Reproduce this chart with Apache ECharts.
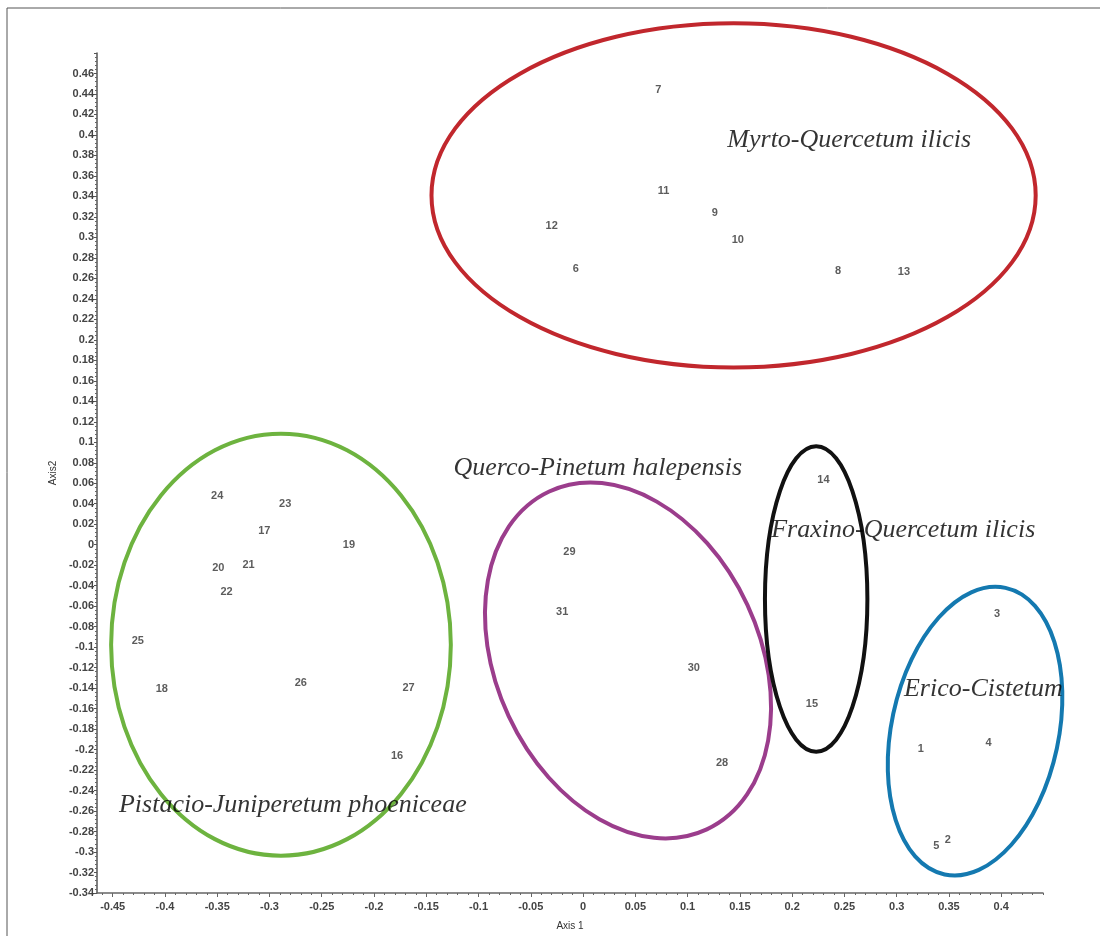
<!DOCTYPE html>
<html lang="en">

<head>
  <meta charset="UTF-8">
  <title>Axis 1 / Axis 2</title>
  <style>
    html,
    body {
      margin: 0;
      padding: 0;
      background: #fff;
    }

    #chart {
      width: 1100px;
      height: 936px;
    }
  </style>
</head>

<body>
  <div id="chart"></div>
</body>
<script src="https://cdn.jsdelivr.net/npm/echarts@6/dist/echarts.min.js"></script>
<script>
  // releves (numero, axe 1, axe 2)
  var releves = ['1', '2', '3', '4', '5', '6', '7', '8', '9', '10', '11', '12', '13', '14', '15', '16',
    '17', '18', '19', '20', '21', '22', '23', '24', '25', '26', '27', '28', '29', '30', '31']
  var axis1 = [0.323, 0.349, 0.396, 0.388, 0.338, -0.007, 0.072, 0.244, 0.126, 0.148, 0.077, -0.030, 0.307,
    0.230, 0.219, -0.178, -0.305, -0.403, -0.224, -0.349, -0.320, -0.341, -0.285, -0.350, -0.426, -0.270,
    -0.167, 0.133, -0.013, 0.106, -0.020]
  var axis2 = [-0.199, -0.288, -0.068, -0.194, -0.294, 0.269, 0.444, 0.267, 0.324, 0.297, 0.345, 0.311, 0.266,
    0.063, -0.155, -0.206, 0.013, -0.141, 0.000, -0.023, -0.020, -0.046, 0.040, 0.048, -0.094, -0.135,
    -0.140, -0.213, -0.007, -0.120, -0.066]

  // groupements (nom + point d'ancrage du texte)
  var groupes = ['Myrto-Quercetum ilicis', 'Querco-Pinetum halepensis', 'Fraxino-Quercetum ilicis',
    'Erico-Cistetum', 'Pistacio-Juniperetum phoeniceae']
  var groupeX = [0.138, -0.124, 0.180, 0.307, -0.444]
  var groupeY = [0.395, 0.075, 0.0146, -0.1415, -0.2546]

  // ellipses : centre, demi-axes (unites des axes), inclinaison en degres
  var ellCx = [0.144, -0.289, 0.043, 0.223, 0.375]
  var ellCy = [0.341, -0.0976, -0.113, -0.053, -0.182]
  var ellRx = [0.289, 0.1625, 0.126, 0.049, 0.080]
  var ellRy = [0.168, 0.206, 0.182, 0.149, 0.143]
  var ellTilt = [0, 0, 25, 0, -12]
  var ellColors = ['#c1272d', '#6db33f', '#9b3d8c', '#111111', '#1479b0']

  var xTicks = [-0.45, -0.4, -0.35, -0.3, -0.25, -0.2, -0.15, -0.1, -0.05, 0, 0.05, 0.1, 0.15, 0.2, 0.25, 0.3, 0.35, 0.4]

  var xMinor = []
  for (var k = -46; k <= 44; k++) {
    xMinor.push(k / 100)
  }

  var pts = releves.map(function (r, i) {
    return { name: r, value: [axis1[i], axis2[i]] }
  })
  var grp = groupes.map(function (g, i) {
    return { name: g, value: [groupeX[i], groupeY[i]] }
  })

  var myChart = echarts.init(document.getElementById('chart'))
  var option = {
    animation: false,
    grid: { left: 97, right: 57, top: 53, bottom: 42 },
    xAxis: [{
      type: 'value',
      position: 'bottom',
      min: -0.465,
      max: 0.44,
      name: 'Axis 1',
      nameLocation: 'middle',
      nameGap: 28,
      nameTextStyle: { fontSize: 10, color: '#333', fontFamily: 'Liberation Sans' },
      splitLine: { show: false },
      axisLine: { onZero: false, lineStyle: { color: '#666', width: 1.5 } },
      axisTick: { customValues: xTicks, length: 4, lineStyle: { color: '#666' } },
      axisLabel: {
        customValues: xTicks,
        fontSize: 11,
        fontWeight: 'bold',
        color: '#444',
        margin: 8,
        fontFamily: 'Liberation Sans'
      }
    }, {
      type: 'value',
      position: 'bottom',
      min: -0.465,
      max: 0.44,
      splitLine: { show: false },
      axisLine: { show: false, onZero: false },
      axisTick: { customValues: xMinor, length: 2, lineStyle: { color: '#666' } },
      axisLabel: { show: false }
    }],
    yAxis: {
      type: 'value',
      min: -0.34,
      max: 0.48,
      interval: 0.02,
      name: 'Axis2',
      nameLocation: 'middle',
      nameGap: 36,
      nameTextStyle: { fontSize: 10, color: '#333', fontFamily: 'Liberation Sans' },
      splitLine: { show: false },
      axisLine: { onZero: false, lineStyle: { color: '#555', width: 1.5 } },
      axisTick: { length: 3, lineStyle: { color: '#555' } },
      minorTick: { show: true, splitNumber: 5, length: 2, lineStyle: { color: '#666' } },
      axisLabel: {
        showMaxLabel: false,
        fontSize: 11,
        fontWeight: 'bold',
        color: '#444',
        margin: 3,
        fontFamily: 'Liberation Sans'
      }
    },
    graphic: [{
      type: 'rect',
      shape: { x: 7, y: 8, width: 1200, height: 1000 },
      style: { fill: null, stroke: '#555', lineWidth: 1 },
      silent: true
    }],
    series: [{
      name: 'releves',
      type: 'scatter',
      z: 10,
      symbolSize: 0,
      data: pts,
      label: {
        show: true,
        position: 'inside',
        formatter: '{b}',
        fontSize: 11,
        fontWeight: 'bold',
        color: '#333',
        fontFamily: 'Liberation Sans'
      }
    }, {
      name: 'groupes',
      type: 'scatter',
      z: 10,
      symbolSize: 0,
      data: grp,
      label: {
        show: true,
        position: 'right',
        distance: 0,
        formatter: '{b}',
        fontSize: 26,
        fontStyle: 'italic',
        color: '#000',
        fontFamily: 'Liberation Serif'
      }
    }]
  }
  myChart.setOption(option)

  // ellipses dessinees en pixels a partir des unites des axes
  function drawEllipses() {
    var items = ellCx.map(function (cx, i) {
      var c = myChart.convertToPixel({ gridIndex: 0 }, [cx, ellCy[i]])
      var ex = myChart.convertToPixel({ gridIndex: 0 }, [cx + ellRx[i], ellCy[i]])
      var ey = myChart.convertToPixel({ gridIndex: 0 }, [cx, ellCy[i] + ellRy[i]])
      return {
        type: 'ellipse',
        x: c[0],
        y: c[1],
        rotation: ellTilt[i] * Math.PI / 180,
        shape: { cx: 0, cy: 0, rx: Math.abs(ex[0] - c[0]), ry: Math.abs(c[1] - ey[1]) },
        style: { fill: null, stroke: ellColors[i], lineWidth: 4 },
        z: 1,
        silent: true
      }
    })
    myChart.setOption({ graphic: option.graphic.concat(items) })
  }
  drawEllipses()
</script>

</html>
